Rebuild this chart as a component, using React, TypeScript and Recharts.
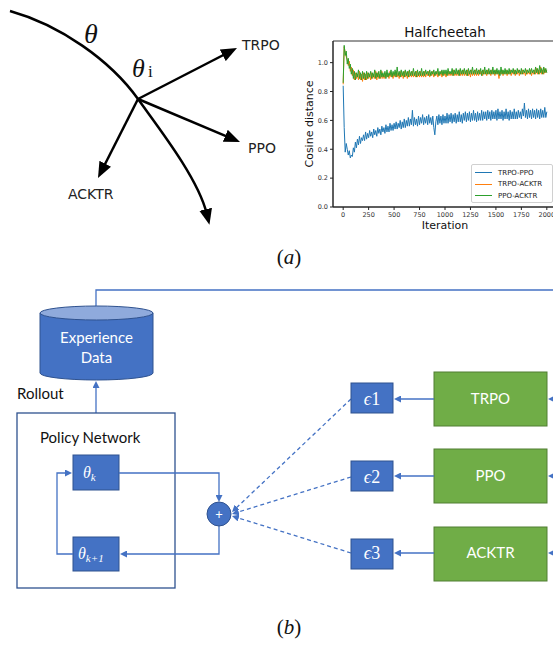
import React from 'react';
import { LineChart, Line, XAxis, YAxis, ReferenceArea } from 'recharts';

const iterations = [
  0, 10, 20, 30, 40, 50, 60, 70, 80, 90, 100, 110, 120, 130, 140, 150, 160, 170, 180, 190,
  200, 210, 220, 230, 240, 250, 260, 270, 280, 290, 300, 310, 320, 330, 340, 350, 360, 370, 380, 390,
  400, 410, 420, 430, 440, 450, 460, 470, 480, 490, 500, 510, 520, 530, 540, 550, 560, 570, 580, 590,
  600, 610, 620, 630, 640, 650, 660, 670, 680, 690, 700, 710, 720, 730, 740, 750, 760, 770, 780, 790,
  800, 810, 820, 830, 840, 850, 860, 870, 880, 890, 900, 910, 920, 930, 940, 950, 960, 970, 980, 990,
  1000, 1010, 1020, 1030, 1040, 1050, 1060, 1070, 1080, 1090, 1100, 1110, 1120, 1130, 1140, 1150, 1160, 1170, 1180, 1190,
  1200, 1210, 1220, 1230, 1240, 1250, 1260, 1270, 1280, 1290, 1300, 1310, 1320, 1330, 1340, 1350, 1360, 1370, 1380, 1390,
  1400, 1410, 1420, 1430, 1440, 1450, 1460, 1470, 1480, 1490, 1500, 1510, 1520, 1530, 1540, 1550, 1560, 1570, 1580, 1590,
  1600, 1610, 1620, 1630, 1640, 1650, 1660, 1670, 1680, 1690, 1700, 1710, 1720, 1730, 1740, 1750, 1760, 1770, 1780, 1790,
  1800, 1810, 1820, 1830, 1840, 1850, 1860, 1870, 1880, 1890, 1900, 1910, 1920, 1930, 1940, 1950, 1960, 1970, 1980, 1990,
  2000,
];

const trpoPpo = [
  0.84, 0.55, 0.38, 0.44, 0.40, 0.36, 0.39, 0.34, 0.36, 0.35, 0.41, 0.38, 0.45, 0.41, 0.47, 0.43, 0.49, 0.44, 0.48, 0.46,
  0.50, 0.46, 0.52, 0.47, 0.51, 0.48, 0.53, 0.49, 0.52, 0.48, 0.54, 0.50, 0.53, 0.49, 0.55, 0.51, 0.54, 0.50, 0.56, 0.52,
  0.55, 0.51, 0.57, 0.52, 0.56, 0.52, 0.58, 0.53, 0.57, 0.53, 0.58, 0.54, 0.59, 0.54, 0.58, 0.55, 0.60, 0.54, 0.59, 0.55,
  0.61, 0.55, 0.60, 0.56, 0.62, 0.56, 0.61, 0.57, 0.67, 0.56, 0.62, 0.57, 0.61, 0.56, 0.63, 0.57, 0.62, 0.58, 0.64, 0.57,
  0.62, 0.58, 0.63, 0.57, 0.64, 0.58, 0.62, 0.57, 0.63, 0.55, 0.50, 0.59, 0.63, 0.57, 0.64, 0.58, 0.63, 0.57, 0.64, 0.58,
  0.63, 0.58, 0.65, 0.58, 0.64, 0.59, 0.65, 0.58, 0.64, 0.59, 0.65, 0.58, 0.64, 0.59, 0.66, 0.59, 0.64, 0.58, 0.65, 0.60,
  0.66, 0.59, 0.65, 0.60, 0.66, 0.59, 0.65, 0.60, 0.67, 0.60, 0.65, 0.59, 0.66, 0.60, 0.65, 0.60, 0.67, 0.60, 0.66, 0.61,
  0.66, 0.60, 0.67, 0.61, 0.66, 0.60, 0.67, 0.61, 0.66, 0.61, 0.67, 0.60, 0.68, 0.61, 0.66, 0.61, 0.67, 0.60, 0.66, 0.61,
  0.68, 0.61, 0.66, 0.60, 0.67, 0.61, 0.66, 0.61, 0.68, 0.61, 0.66, 0.61, 0.67, 0.62, 0.66, 0.61, 0.68, 0.63, 0.72, 0.62,
  0.67, 0.61, 0.68, 0.62, 0.67, 0.61, 0.68, 0.62, 0.67, 0.61, 0.68, 0.62, 0.67, 0.61, 0.68, 0.62, 0.67, 0.62, 0.69, 0.62,
  0.66,
];

const trpoAcktr = [
  0.85, 1.11, 1.07, 1.04, 1.02, 0.98, 1.01, 0.94, 0.97, 0.91, 0.95, 0.88, 0.93, 0.89, 0.92, 0.88, 0.94, 0.88, 0.92, 0.87,
  0.93, 0.88, 0.92, 0.88, 0.93, 0.89, 0.92, 0.88, 0.93, 0.89, 0.92, 0.89, 0.94, 0.88, 0.93, 0.89, 0.92, 0.89, 0.94, 0.89,
  0.92, 0.89, 0.93, 0.90, 0.92, 0.89, 0.94, 0.90, 0.93, 0.89, 0.93, 0.90, 0.94, 0.90, 0.93, 0.89, 0.94, 0.90, 0.93, 0.89,
  0.94, 0.90, 0.93, 0.89, 0.94, 0.90, 0.93, 0.90, 0.94, 0.90, 0.93, 0.90, 0.94, 0.90, 0.93, 0.90, 0.94, 0.90, 0.93, 0.90,
  0.94, 0.90, 0.93, 0.91, 0.94, 0.90, 0.93, 0.91, 0.94, 0.90, 0.93, 0.91, 0.94, 0.90, 0.93, 0.91, 0.94, 0.90, 0.94, 0.91,
  0.93, 0.90, 0.94, 0.91, 0.94, 0.91, 0.93, 0.91, 0.95, 0.91, 0.93, 0.91, 0.94, 0.91, 0.95, 0.91, 0.94, 0.91, 0.95, 0.91,
  0.94, 0.91, 0.95, 0.91, 0.94, 0.90, 0.95, 0.91, 0.94, 0.91, 0.95, 0.91, 0.94, 0.91, 0.95, 0.92, 0.94, 0.91, 0.95, 0.92,
  0.94, 0.91, 0.95, 0.92, 0.94, 0.91, 0.95, 0.92, 0.94, 0.91, 0.95, 0.92, 0.94, 0.89, 0.94, 0.92, 0.95, 0.91, 0.94, 0.92,
  0.95, 0.91, 0.94, 0.92, 0.95, 0.91, 0.94, 0.92, 0.95, 0.91, 0.94, 0.92, 0.95, 0.91, 0.94, 0.92, 0.95, 0.92, 0.94, 0.91,
  0.95, 0.92, 0.94, 0.92, 0.95, 0.91, 0.94, 0.92, 0.95, 0.92, 0.96, 0.92, 0.95, 0.92, 0.97, 0.92, 0.95, 0.92, 0.96, 0.93,
  0.95,
];

const ppoAcktr = [
  0.86, 1.12, 1.05, 1.08, 0.99, 1.03, 0.96, 0.99, 0.92, 0.96, 0.89, 0.94, 0.88, 0.93, 0.90, 0.95, 0.89, 0.93, 0.88, 0.94,
  0.89, 0.93, 0.88, 0.94, 0.89, 0.93, 0.90, 0.94, 0.89, 0.93, 0.90, 0.95, 0.89, 0.93, 0.90, 0.94, 0.89, 0.95, 0.90, 0.93,
  0.90, 0.94, 0.89, 0.95, 0.90, 0.93, 0.91, 0.95, 0.90, 0.94, 0.91, 0.95, 0.90, 0.97, 0.91, 0.94, 0.90, 0.95, 0.91, 0.94,
  0.90, 0.95, 0.91, 0.94, 0.90, 0.95, 0.91, 0.94, 0.91, 0.96, 0.91, 0.94, 0.90, 0.95, 0.91, 0.94, 0.91, 0.96, 0.91, 0.94,
  0.91, 0.95, 0.92, 0.94, 0.91, 0.95, 0.91, 0.94, 0.92, 0.95, 0.91, 0.94, 0.92, 0.96, 0.91, 0.94, 0.92, 0.95, 0.91, 0.95,
  0.92, 0.95, 0.91, 0.96, 0.92, 0.94, 0.92, 0.96, 0.91, 0.95, 0.92, 0.96, 0.92, 0.95, 0.91, 0.96, 0.92, 0.95, 0.92, 0.96,
  0.92, 0.95, 0.91, 0.96, 0.92, 0.95, 0.92, 0.97, 0.92, 0.95, 0.92, 0.96, 0.92, 0.95, 0.92, 0.96, 0.91, 0.95, 0.92, 0.97,
  0.92, 0.95, 0.92, 0.96, 0.92, 0.95, 0.92, 0.97, 0.92, 0.95, 0.92, 0.96, 0.92, 0.95, 0.91, 0.97, 0.92, 0.95, 0.92, 0.96,
  0.92, 0.95, 0.92, 0.96, 0.92, 0.95, 0.93, 0.96, 0.92, 0.95, 0.92, 0.96, 0.93, 0.95, 0.92, 0.96, 0.92, 0.95, 0.93, 0.96,
  0.92, 0.95, 0.93, 0.96, 0.92, 0.96, 0.93, 0.95, 0.92, 0.97, 0.93, 0.96, 0.92, 0.98, 0.93, 0.96, 0.92, 0.97, 0.93, 0.96,
  0.93,
];

const xTicks = [0, 250, 500, 750, 1000, 1250, 1500, 1750, 2000];
const yTicks = [0, 0.2, 0.4, 0.6, 0.8, 1.0];
const seriesKeys = ['trpoPpo', 'trpoAcktr', 'ppoAcktr'];
const seriesNames = ['TRPO-PPO', 'TRPO-ACKTR', 'PPO-ACKTR'];
const seriesColors = ['#1f77b4', '#ff7f0e', '#2ca02c'];

const data = iterations.map((it, i) => ({
  it,
  trpoPpo: trpoPpo[i],
  trpoAcktr: trpoAcktr[i],
  ppoAcktr: ppoAcktr[i],
}));

const BLUE = '#4472C4';
const BLUE_DARK = '#2F528F';
const GREEN = '#70AD47';
const GREEN_DARK = '#507E32';
const SANS = "'DejaVu Sans', sans-serif";
const OFFICE = "Lato, 'Open Sans', sans-serif";
const SERIF = "'Liberation Serif', 'DejaVu Serif', serif";

function back(x1: number, y1: number, x2: number, y2: number, d: number) {
  const dx = x2 - x1;
  const dy = y2 - y1;
  const L = Math.sqrt(dx * dx + dy * dy);
  return [x2 - (dx / L) * d, y2 - (dy / L) * d];
}

function BigArrow({ x1, y1, x2, y2 }: { x1: number; y1: number; x2: number; y2: number }) {
  const [ex, ey] = back(x1, y1, x2, y2, 12);
  return <line x1={x1} y1={y1} x2={ex} y2={ey} stroke="#000" strokeWidth={2.5} markerEnd="url(#bigHead)" />;
}

function SmallArrow({ pts, dashed }: { pts: number[][]; dashed?: boolean }) {
  const n = pts.length;
  const [ex, ey] = back(pts[n - 2][0], pts[n - 2][1], pts[n - 1][0], pts[n - 1][1], 4);
  const all = pts.slice(0, n - 1).concat([[ex, ey]]);
  const d = all.map((p, i) => (i === 0 ? 'M' : 'L') + p[0] + ',' + p[1]).join(' ');
  return (
    <path
      d={d}
      fill="none"
      stroke={BLUE}
      strokeWidth={1.3}
      strokeDasharray={dashed ? '4,3' : undefined}
      markerEnd="url(#smallHead)"
    />
  );
}

function LegendBox() {
  return (
    <div
      style={{
        position: 'absolute',
        left: 471,
        top: 164,
        width: 82,
        height: 39,
        border: '1px solid #d0d0d0',
        borderRadius: 2,
        background: 'rgba(255,255,255,0.9)',
        boxSizing: 'border-box',
        padding: '2px 0 0 3px',
        fontFamily: SANS,
        fontSize: 7,
        color: '#222',
      }}
    >
      {seriesNames.map((n, i) => (
        <div key={n} style={{ display: 'flex', alignItems: 'center', height: 11.5, whiteSpace: 'nowrap' }}>
          <div style={{ width: 17, height: 1.2, background: seriesColors[i], marginRight: 6 }} />
          <span>{n}</span>
        </div>
      ))}
    </div>
  );
}

function Diagram() {
  const O = [138, 99];
  return (
    <svg width={553} height={645} style={{ position: 'absolute', left: 0, top: 0 }}>
      <defs>
        <marker id="bigHead" viewBox="0 0 16 13" refX={4} refY={6.5} markerWidth={16} markerHeight={13} markerUnits="userSpaceOnUse" orient="auto">
          <path d="M0,0 L16,6.5 L0,13 z" fill="#000" />
        </marker>
        <marker id="smallHead" viewBox="0 0 7 7" refX={3} refY={3.5} markerWidth={7} markerHeight={7} markerUnits="userSpaceOnUse" orient="auto">
          <path d="M0,0 L7,3.5 L0,7 z" fill={BLUE} />
        </marker>
      </defs>

      {/* (a) geometry sketch */}
      <path d="M10,11 C60,25 110,60 138,99 C158,127 198,178 206.6,213.2" fill="none" stroke="#000" strokeWidth={2.5} markerEnd="url(#bigHead)" />
      <BigArrow x1={O[0]} y1={O[1]} x2={237} y2={48} />
      <BigArrow x1={O[0]} y1={O[1]} x2={240} y2={142} />
      <BigArrow x1={O[0]} y1={O[1]} x2={98} y2={178} />
      <text x={84} y={43} fontFamily={SERIF} fontStyle="italic" fontSize={28} fill="#111">θ</text>
      <text x={132} y={77} fontFamily={SERIF} fontStyle="italic" fontSize={26} fill="#111">θ</text>
      <text x={148} y={77} fontFamily={SERIF} fontSize={17} fill="#111">i</text>
      <text x={242} y={50} fontFamily={SANS} fontSize={14} fill="#222">TRPO</text>
      <text x={248} y={153} fontFamily={SANS} fontSize={14} fill="#222">PPO</text>
      <text x={68} y={199} fontFamily={SANS} fontSize={14} fill="#222">ACKTR</text>

      {/* chart title and axis labels */}
      <text x={445} y={37} textAnchor="middle" fontFamily={SANS} fontSize={13.5} fill="#111">Halfcheetah</text>
      <text x={445} y={229} textAnchor="middle" fontFamily={SANS} fontSize={11} fill="#111">Iteration</text>
      <text x={313} y={124} textAnchor="middle" fontFamily={SANS} fontSize={11} fill="#111" transform="rotate(-90 313 124)">Cosine distance</text>

      <text x={289} y={264} textAnchor="middle" fontFamily={SERIF} fontSize={21} fill="#111">
        (<tspan fontStyle="italic">a</tspan>)
      </text>
      <text x={289} y={634} textAnchor="middle" fontFamily={SERIF} fontSize={21} fill="#111">
        (<tspan fontStyle="italic">b</tspan>)
      </text>

      {/* (b) system diagram */}
      <path d="M96,307 L96,290 L553,290" fill="none" stroke={BLUE} strokeWidth={1.3} />

      <path d="M40,313 L40,373 A56.5,7 0 0 0 153,373 L153,313" fill={BLUE} stroke={BLUE_DARK} strokeWidth={1} />
      <ellipse cx={96.5} cy={313} rx={56.5} ry={7} fill="#8FAADC" stroke={BLUE_DARK} strokeWidth={1} />
      <text x={96.5} y={343} textAnchor="middle" fontFamily={OFFICE} fontSize={15} fill="#fff">Experience</text>
      <text x={96.5} y={363} textAnchor="middle" fontFamily={OFFICE} fontSize={15} fill="#fff">Data</text>

      <SmallArrow pts={[[96, 413], [96, 381]]} />
      <text x={17} y={399} fontFamily={OFFICE} fontSize={15} fill="#111">Rollout</text>

      <rect x={17} y={413} width={158} height={175} fill="none" stroke={BLUE_DARK} strokeWidth={1.3} />
      <text x={40} y={443} fontFamily={OFFICE} fontSize={15} fill="#111">Policy Network</text>

      <rect x={73} y={455} width={46} height={35} fill={BLUE} stroke={BLUE_DARK} strokeWidth={1} />
      <text x={83} y={478} fontFamily={SERIF} fontStyle="italic" fontSize={16} fill="#fff">
        θ<tspan fontSize={11} dy={3}>k</tspan>
      </text>
      <rect x={73} y={537} width={46} height={34} fill={BLUE} stroke={BLUE_DARK} strokeWidth={1} />
      <text x={78} y={559} fontFamily={SERIF} fontStyle="italic" fontSize={16} fill="#fff">
        θ<tspan fontSize={11} dy={3}>k+1</tspan>
      </text>

      <SmallArrow pts={[[119, 473], [219, 473], [219, 502]]} />
      <SmallArrow pts={[[219, 525], [219, 554], [120, 554]]} />
      <SmallArrow pts={[[73, 554], [57, 554], [57, 473], [72, 473]]} />

      <circle cx={219} cy={514} r={12} fill={BLUE} stroke={BLUE_DARK} strokeWidth={1} />
      <text x={219} y={518.5} textAnchor="middle" fontFamily={OFFICE} fontSize={13} fill="#fff">+</text>

      <SmallArrow pts={[[351, 399], [232, 512]]} dashed />
      <SmallArrow pts={[[351, 477], [232, 514]]} dashed />
      <SmallArrow pts={[[351, 553], [232, 516]]} dashed />

      {[[383, 399, '1'], [461, 477, '2'], [539, 553, '3']].map(([y, cy, n]) => (
        <g key={String(n)}>
          <rect x={351} y={Number(y)} width={42} height={30} fill={BLUE} stroke={BLUE_DARK} strokeWidth={1} />
          <text x={372} y={Number(cy) + 6} textAnchor="middle" fontFamily={SERIF} fontSize={18} fill="#fff">
            <tspan fontStyle="italic">ϵ</tspan>{n}
          </text>
        </g>
      ))}

      {[[372, 399, 'TRPO'], [449, 476, 'PPO'], [527, 553, 'ACKTR']].map(([y, cy, name]) => (
        <g key={String(name)}>
          <rect x={434} y={Number(y)} width={113} height={54} fill={GREEN} stroke={GREEN_DARK} strokeWidth={1} />
          <text x={490.5} y={Number(cy) + 5} textAnchor="middle" fontFamily={OFFICE} fontSize={15} fill="#fff">{name}</text>
          <SmallArrow pts={[[434, Number(cy)], [394, Number(cy)]]} />
          <SmallArrow pts={[[560, Number(cy)], [548, Number(cy)]]} />
        </g>
      ))}
    </svg>
  );
}

export default function App() {
  return (
    <div style={{ position: 'absolute', left: 0, top: 0, width: 553, height: 645, overflow: 'hidden', background: '#fff' }}>
      <Diagram />
      <div style={{ position: 'absolute', left: 290, top: 0 }}>
        <LineChart width={275} height={240} data={data} margin={{ top: 41, right: 8, bottom: 0, left: 0 }}>
          <XAxis
            dataKey="it"
            type="number"
            domain={[-100, 2100]}
            ticks={xTicks}
            tickSize={3}
            interval={0}
            tick={{ fontSize: 6.5, fill: '#333', fontFamily: SANS }}
            stroke="#222"
            height={33}
          />
          <YAxis
            type="number"
            domain={[0, 1.15]}
            ticks={yTicks}
            tickSize={3}
            interval={0}
            tickFormatter={(v: number) => v.toFixed(1)}
            tick={{ fontSize: 6.5, fill: '#333', fontFamily: SANS }}
            stroke="#222"
            width={43}
          />
          <ReferenceArea x1={-100} x2={2100} y1={0} y2={1.15} fill="none" stroke="#333" strokeWidth={1} ifOverflow="visible" />
          {seriesKeys.map((k, i) => (
            <Line
              key={k}
              dataKey={k}
              name={seriesNames[i]}
              type="linear"
              stroke={seriesColors[i]}
              strokeWidth={1}
              dot={false}
              isAnimationActive={false}
            />
          ))}
        </LineChart>
      </div>
      <LegendBox />
    </div>
  );
}
